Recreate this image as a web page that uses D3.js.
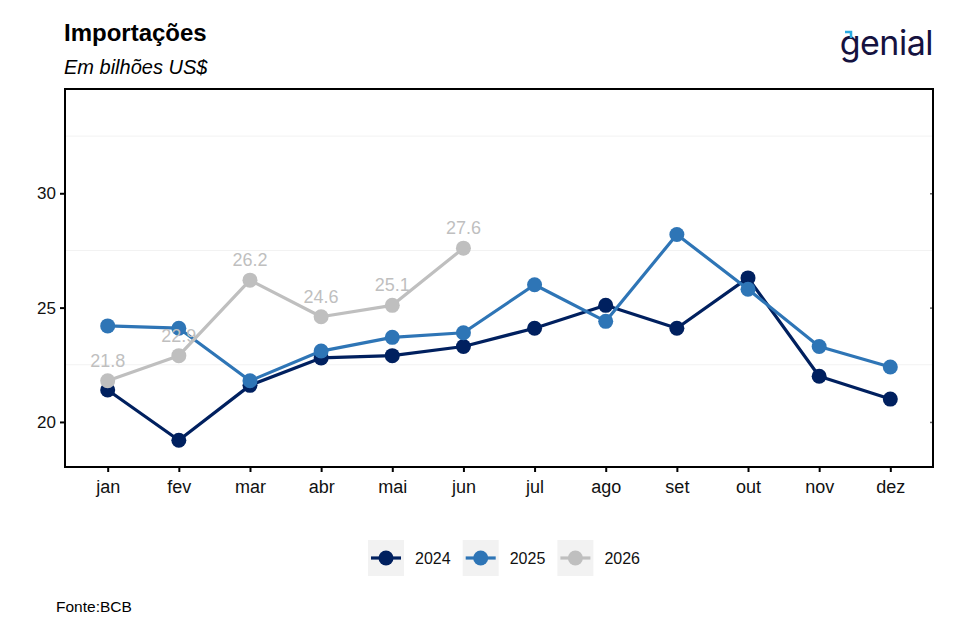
<!DOCTYPE html>
<html>
<head>
<meta charset="utf-8">
<script src="https://cdn.jsdelivr.net/npm/d3@7"></script>
<style>
  body { margin: 0; background: #fff; }
  svg text { font-family: "Liberation Sans", Arial, sans-serif; }
</style>
</head>
<body>
<svg id="chart" width="956" height="638"></svg>
<script>
// months on the x axis
const months = ["jan", "fev", "mar", "abr", "mai", "jun", "jul", "ago", "set", "out", "nov", "dez"];
const years = ["2024", "2025", "2026"];
const values2024 = [21.4, 19.2, 21.6, 22.8, 22.9, 23.3, 24.1, 25.1, 24.1, 26.3, 22.0, 21.0];
const values2025 = [24.2, 24.1, 21.8, 23.1, 23.7, 23.9, 26.0, 24.4, 28.2, 25.8, 23.3, 22.4];
const values2026 = [21.8, 22.9, 26.2, 24.6, 25.1, 27.6];
const yTicks = [20, 25, 30];
const yMinor = [22.5, 27.5, 32.5];

const colors = {"2024": "#00205f", "2025": "#2e75b6", "2026": "#bfbfbf"};

const series = [
    {year: "2024", values: values2024},
    {year: "2025", values: values2025},
    {year: "2026", values: values2026}
];

const svg = d3.select("#chart");
const margin = {left: 65, right: 23, top: 89, bottom: 171};
const width = 956 - margin.left - margin.right;
const height = 638 - margin.top - margin.bottom;

const x = d3.scalePoint()
    .domain(months)
    .range([0, width])
    .padding(0.6);

const y = d3.scaleLinear()
    .domain([18.03, 34.56])
    .range([height, 0]);

const g = svg.append("g")
    .attr("transform", `translate(${margin.left}, ${margin.top})`);

// faint minor gridlines
g.selectAll("line.minor")
    .data(yMinor)
    .enter().append("line")
    .attr("class", "minor")
    .attr("x1", 0).attr("x2", width)
    .attr("y1", d => y(d)).attr("y2", d => y(d))
    .attr("stroke", "#f2f2f2")
    .attr("stroke-width", 1);

// left axis
const yAxis = g.append("g")
    .call(d3.axisLeft(y).tickValues(yTicks).tickSize(5).tickPadding(4));
yAxis.select(".domain").remove();
yAxis.selectAll(".tick line").attr("stroke", "#000").attr("stroke-width", 2);
yAxis.selectAll(".tick text")
    .attr("font-size", 17)
    .attr("fill", "#111")
    .style("font-family", "Liberation Sans, Arial, sans-serif");

// small notches on the right border
g.append("g")
    .attr("transform", `translate(${width}, 0)`)
    .call(d3.axisLeft(y).tickValues(yTicks).tickSize(3).tickFormat(""))
    .call(a => a.select(".domain").remove())
    .selectAll(".tick line").attr("stroke", "#666").attr("stroke-width", 1.5);

// bottom axis
const xAxis = g.append("g")
    .attr("transform", `translate(0, ${height})`)
    .call(d3.axisBottom(x).tickSize(5).tickPadding(8));
xAxis.select(".domain").remove();
xAxis.selectAll(".tick line").attr("stroke", "#000").attr("stroke-width", 2);
xAxis.selectAll(".tick text")
    .attr("font-size", 18)
    .attr("fill", "#111")
    .style("font-family", "Liberation Sans, Arial, sans-serif");

// panel border
g.append("rect")
    .attr("x", 0).attr("y", 0)
    .attr("width", width).attr("height", height)
    .attr("fill", "none")
    .attr("stroke", "#000")
    .attr("stroke-width", 2);

const line = d3.line()
    .x((d, i) => x(months[i]))
    .y(d => y(d));

const sg = g.selectAll("g.series")
    .data(series)
    .enter().append("g")
    .attr("class", "series");

sg.append("path")
    .attr("d", d => line(d.values))
    .attr("fill", "none")
    .attr("stroke", d => colors[d.year])
    .attr("stroke-width", 3.2)
    .attr("stroke-linejoin", "round");

sg.selectAll("circle")
    .data(d => d.values.map((v, i) => ({v, i, year: d.year})))
    .enter().append("circle")
    .attr("cx", d => x(months[d.i]))
    .attr("cy", d => y(d.v))
    .attr("r", 7.5)
    .attr("fill", d => colors[d.year]);

// value labels for 2026
g.selectAll("text.lbl")
    .data(values2026)
    .enter().append("text")
    .attr("class", "lbl")
    .attr("x", (d, i) => x(months[i]))
    .attr("y", d => y(d) - 14)
    .attr("text-anchor", "middle")
    .attr("font-size", 18)
    .attr("fill", "#bfbfbf")
    .text(d => d.toFixed(1));

// titles
svg.append("text")
    .attr("x", 64).attr("y", 41)
    .attr("font-size", 24)
    .attr("font-weight", "bold")
    .attr("fill", "#000")
    .text("Importações");

svg.append("text")
    .attr("x", 64).attr("y", 74)
    .attr("font-size", 20)
    .attr("font-style", "italic")
    .attr("fill", "#000")
    .text("Em bilhões US$");

// logo
svg.append("text")
    .attr("x", 933).attr("y", 55)
    .attr("text-anchor", "end")
    .attr("font-size", 34)
    .attr("fill", "#15123f")
    .style("font-family", "Inter, sans-serif")
    .style("letter-spacing", "-0.5px")
    .text("genial");
svg.append("path")
    .attr("d", "M845,32 L851,32 L851,38")
    .attr("fill", "none")
    .attr("stroke", "#2aa9e0")
    .attr("stroke-width", 2.5);

// legend
const legend = svg.append("g")
    .attr("transform", "translate(368, 540)");

const item = legend.selectAll("g")
    .data(years)
    .enter().append("g")
    .attr("transform", (d, i) => `translate(${i * 94.7}, 0)`);

item.append("rect")
    .attr("width", 36).attr("height", 36)
    .attr("fill", "#f2f2f2");
item.append("line")
    .attr("x1", 3).attr("x2", 33)
    .attr("y1", 18).attr("y2", 18)
    .attr("stroke", d => colors[d])
    .attr("stroke-width", 3.2);
item.append("circle")
    .attr("cx", 18).attr("cy", 18)
    .attr("r", 7.5)
    .attr("fill", d => colors[d]);
item.append("text")
    .attr("x", 47).attr("y", 24)
    .attr("font-size", 16)
    .attr("fill", "#111")
    .text(d => d);

svg.append("text")
    .attr("x", 56).attr("y", 612)
    .attr("font-size", 15.5)
    .attr("fill", "#000")
    .text("Fonte:BCB");
</script>
</body>
</html>
